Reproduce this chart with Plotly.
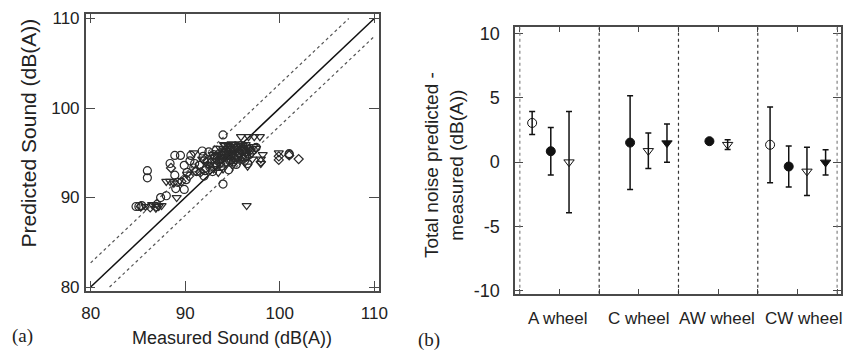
import plotly.graph_objects as go

# ---------------- Panel (a) data: measured vs predicted ----------------
circ_x = [84.8, 85.1, 85.4, 86.0, 86.0, 87.0, 87.4, 88.0, 88.4, 88.9, 89.5, 88.9, 89.0, 89.9,
          89.9, 90.2, 90.6, 90.5, 90.9, 91.2, 91.5, 91.8, 91.9, 92.0, 92.1, 92.3, 92.6, 92.9,
          93.0, 93.3, 93.6, 94.0, 94.0, 94.2, 94.5, 94.8, 95.1, 95.3, 95.6, 95.9, 96.1, 96.4,
          96.8, 97.2, 101.0, 101.0, 89.2, 90.1, 91.0, 92.5, 93.8, 94.6, 95.4, 96.6, 97.5,
          93.4, 93.9, 94.3, 94.7, 95.0, 95.7, 96.3, 92.8, 93.2, 94.1, 95.2, 96.0]
circ_y = [89.0, 89.0, 89.1, 93.0, 92.2, 89.0, 90.0, 90.2, 93.8, 94.7, 94.7, 92.5, 91.0, 90.9,
          93.6, 92.8, 94.7, 94.1, 93.3, 92.9, 93.6, 95.2, 94.6, 92.4, 93.0, 94.0, 93.4, 92.9,
          94.8, 95.3, 94.2, 97.0, 91.5, 95.0, 94.4, 95.6, 94.0, 95.2, 94.6, 95.8, 94.3, 95.1,
          94.8, 95.3, 94.8, 94.9, 91.7, 92.0, 93.8, 95.1, 93.5, 93.1, 93.7, 93.8, 95.6,
          94.6, 95.1, 94.0, 95.3, 94.7, 95.0, 94.5, 94.3, 93.9, 94.9, 95.5, 95.2]

tri_x = [85.8, 86.5, 86.9, 87.2, 87.5, 88.0, 88.4, 88.8, 89.1, 89.4, 90.2, 90.9, 91.8, 92.4,
         92.9, 93.3, 93.7, 94.0, 94.2, 94.4, 94.7, 94.9, 95.1, 95.3, 95.5, 95.7, 95.9, 96.0,
         96.2, 96.4, 96.5, 96.6, 96.7, 96.9, 97.1, 97.3, 97.5, 97.9, 98.0, 98.2, 98.0, 99.9,
         93.0, 93.5, 94.6, 95.0, 95.8, 96.3, 94.1, 94.5, 94.8, 95.2, 95.6, 96.1, 96.5, 96.8,
         97.2, 94.3, 95.4, 93.8]
tri_y = [89.0, 89.2, 88.8, 89.0, 89.1, 91.8, 91.8, 91.6, 90.0, 91.9, 92.6, 95.0, 94.3, 93.7,
         94.8, 94.1, 95.5, 93.2, 95.8, 94.6, 95.3, 96.0, 94.9, 95.7, 95.1, 96.0, 96.8, 95.4,
         94.7, 95.9, 89.1, 93.5, 96.8, 95.2, 94.3, 96.8, 95.5, 96.8, 94.3, 94.8, 93.8, 95.0,
         93.2, 92.8, 94.0, 93.6, 94.1, 93.9, 95.9, 95.9, 95.7, 95.9, 95.5, 95.8, 95.6, 95.4,
         95.7, 94.9, 94.4, 94.6]

dia_x = [85.3, 86.3, 87.0, 88.5, 89.6, 90.4, 91.1, 91.6, 92.0, 92.7, 93.1, 93.5, 93.9, 94.3,
         94.6, 95.0, 95.2, 95.5, 95.8, 96.2, 96.5, 97.0, 98.0, 99.9, 99.9, 102.0, 101.0, 92.2,
         93.7, 94.9, 94.0, 94.5, 95.3, 95.9, 96.4, 93.3]
dia_y = [89.0, 88.9, 89.3, 93.3, 91.8, 92.4, 93.0, 92.8, 94.2, 93.9, 94.5, 94.9, 94.3, 95.4,
         94.8, 95.2, 94.5, 95.6, 94.9, 95.5, 94.6, 95.0, 94.0, 94.2, 94.6, 94.3, 94.7, 93.3,
         93.8, 94.1, 94.7, 95.1, 94.2, 95.3, 95.0, 93.6]

# reference lines: y = x and the two dashed bounds
line_x = [80, 110]
upper_x = [80, 107.3]
upper_off = 2.7
lower_x = [82, 110]
lower_off = -2.0

# ---------------- Panel (b) data: mean difference with error bars ----------------
groups = ["A wheel", "C wheel", "AW wheel", "CW wheel"]
open_circle_mean = [3.05, None, None, 1.35]
open_circle_err = [0.9, None, None, 2.95]
filled_circle_mean = [0.85, 1.52, 1.63, -0.34]
filled_circle_err = [1.85, 3.65, 0.12, 1.59]
open_tri_mean = [0.0, 0.88, 1.36, -0.72]
open_tri_err = [3.95, 1.38, 0.38, 1.88]
filled_tri_mean = [None, 1.48, None, -0.02]
filled_tri_err = [None, 1.48, None, 0.98]

y_ticks_b = [-10, -5, 0, 5, 10]
y_ticktext_b = ["-10", "-5", "0", "5", "10"]

SANS = "Liberation Sans, Arial, sans-serif"
SERIF = "Liberation Serif, Times New Roman, serif"
INK = "#222222"
FRAME = "#4a4a4a"

fig = go.Figure()

# panel (a) lines
fig.add_trace(go.Scatter(x=line_x, y=line_x, mode="lines",
                         line=dict(color="#111111", width=1.5), xaxis="x", yaxis="y",
                         showlegend=False))
fig.add_trace(go.Scatter(x=upper_x, y=[v + upper_off for v in upper_x], mode="lines",
                         line=dict(color="#555555", width=1.2, dash="3px,3px"),
                         xaxis="x", yaxis="y", showlegend=False))
fig.add_trace(go.Scatter(x=lower_x, y=[v + lower_off for v in lower_x], mode="lines",
                         line=dict(color="#555555", width=1.2, dash="3px,3px"),
                         xaxis="x", yaxis="y", showlegend=False))

mk_line = dict(color="#2a2a2a", width=1.2)
fig.add_trace(go.Scatter(x=circ_x, y=circ_y, mode="markers", xaxis="x", yaxis="y",
                         marker=dict(symbol="circle-open", size=8, line=mk_line, color="#2a2a2a"),
                         showlegend=False))
fig.add_trace(go.Scatter(x=tri_x, y=tri_y, mode="markers", xaxis="x", yaxis="y",
                         marker=dict(symbol="triangle-down-open", size=8, line=mk_line, color="#2a2a2a"),
                         showlegend=False))
fig.add_trace(go.Scatter(x=dia_x, y=dia_y, mode="markers", xaxis="x", yaxis="y",
                         marker=dict(symbol="diamond-open", size=7, line=mk_line, color="#2a2a2a"),
                         showlegend=False))

# panel (b) series
offsets = [0.31, 0.78, 1.24, 1.71]
series_b = [
    (open_circle_mean, open_circle_err, "circle-open", 9),
    (filled_circle_mean, filled_circle_err, "circle", 9),
    (open_tri_mean, open_tri_err, "triangle-down-open", 9),
    (filled_tri_mean, filled_tri_err, "triangle-down", 9),
]
for k, (means, errs, sym, sz) in enumerate(series_b):
    xs, ys, es = [], [], []
    for g, (m, e) in enumerate(zip(means, errs)):
        if m is None:
            continue
        xs.append(2 * g + offsets[k])
        ys.append(m)
        es.append(e)
    fig.add_trace(go.Scatter(x=xs, y=ys, mode="markers", xaxis="x2", yaxis="y2",
                             marker=dict(symbol=sym, size=sz, color="#111111",
                                         line=dict(color="#111111", width=1)),
                             error_y=dict(type="data", array=es, visible=True,
                                          color="#111111", thickness=1.5, width=3),
                             showlegend=False))

# separators and edge dotted lines in panel (b)
shapes = []
for xv in [2, 4, 6]:
    shapes.append(dict(type="line", xref="x2", yref="y2", x0=xv, x1=xv, y0=-10.25, y1=10.5,
                       line=dict(color="#333333", width=1.2, dash="dot")))
for xv in [0, 8]:
    shapes.append(dict(type="line", xref="x2", yref="y2", x0=xv, x1=xv, y0=-10.25, y1=10.5,
                       line=dict(color="#777777", width=1.1, dash="dot")))

annotations = [
    dict(text="Measured Sound (dB(A))", x=232, y=345),
    dict(text="Predicted Sound (dB(A))", x=25, y=133, textangle=-90, font_size=21),
    dict(text="Total noise predicted -<br>measured (dB(A))", x=447, y=166, textangle=-90,
         font_size=19),
]
ann = []
W, H = 854, 357
for a in annotations:
    d = dict(xref="paper", yref="paper", x=a["x"] / W, y=1 - a["y"] / H,
             text=a["text"], showarrow=False, xanchor="center", yanchor="middle",
             textangle=a.get("textangle", 0),
             font=dict(family=SANS, size=a.get("font_size", 18), color=INK))
    ann.append(d)
label_x = [0.95, 2.98, 4.97, 7.15]
for gname, lx in zip(groups, label_x):
    ann.append(dict(xref="x2", yref="paper", x=lx, y=1 - 324 / H, text=gname,
                    showarrow=False, xanchor="center", yanchor="middle",
                    font=dict(family=SANS, size=17, color=INK)))
ann.append(dict(xref="paper", yref="paper", x=19 / W, y=1 - 343 / H, text="(a)",
                showarrow=False, xanchor="center", yanchor="middle",
                font=dict(family=SERIF, size=19, color=INK)))
ann.append(dict(xref="paper", yref="paper", x=432 / W, y=1 - 347 / H, text="(b)",
                showarrow=False, xanchor="center", yanchor="middle",
                font=dict(family=SERIF, size=19, color=INK)))

axis_common = dict(showline=True, mirror="ticks", linecolor=FRAME, linewidth=1.5,
                   ticks="inside", tickcolor=FRAME, tickwidth=1.3, showgrid=False,
                   zeroline=False, tickfont=dict(family=SANS, size=17, color=INK))

fig.update_layout(
    width=W, height=H,
    margin=dict(l=0, r=0, t=0, b=0),
    paper_bgcolor="white", plot_bgcolor="white",
    xaxis=dict(domain=[83 / W, 381 / W], range=[79.48, 110.52], tickvals=[80, 90, 100, 110],
               ticklen=10, anchor="y", ticklabelstandoff=6, **axis_common),
    yaxis=dict(domain=[1 - 296 / H, 1 - 10 / H], range=[79.57, 110.54], tickvals=[80, 90, 100, 110],
               ticklen=10, anchor="x", ticklabelstandoff=1, **axis_common),
    xaxis2=dict(domain=[519 / W, 850 / W], range=[-0.12, 8.1], tickvals=list(range(9)),
                ticklen=5, anchor="y2", showticklabels=False, **axis_common),
    yaxis2=dict(domain=[1 - 299 / H, 1 - 24 / H], range=[-10.25, 10.5], tickvals=y_ticks_b,
                ticktext=y_ticktext_b, ticklen=8, anchor="x2", ticklabelstandoff=10,
                **axis_common),
    shapes=shapes,
    annotations=ann,
)
fig.update_yaxes(tickfont_size=18, selector=dict(anchor="x2"))

fig.write_html("out.html")
